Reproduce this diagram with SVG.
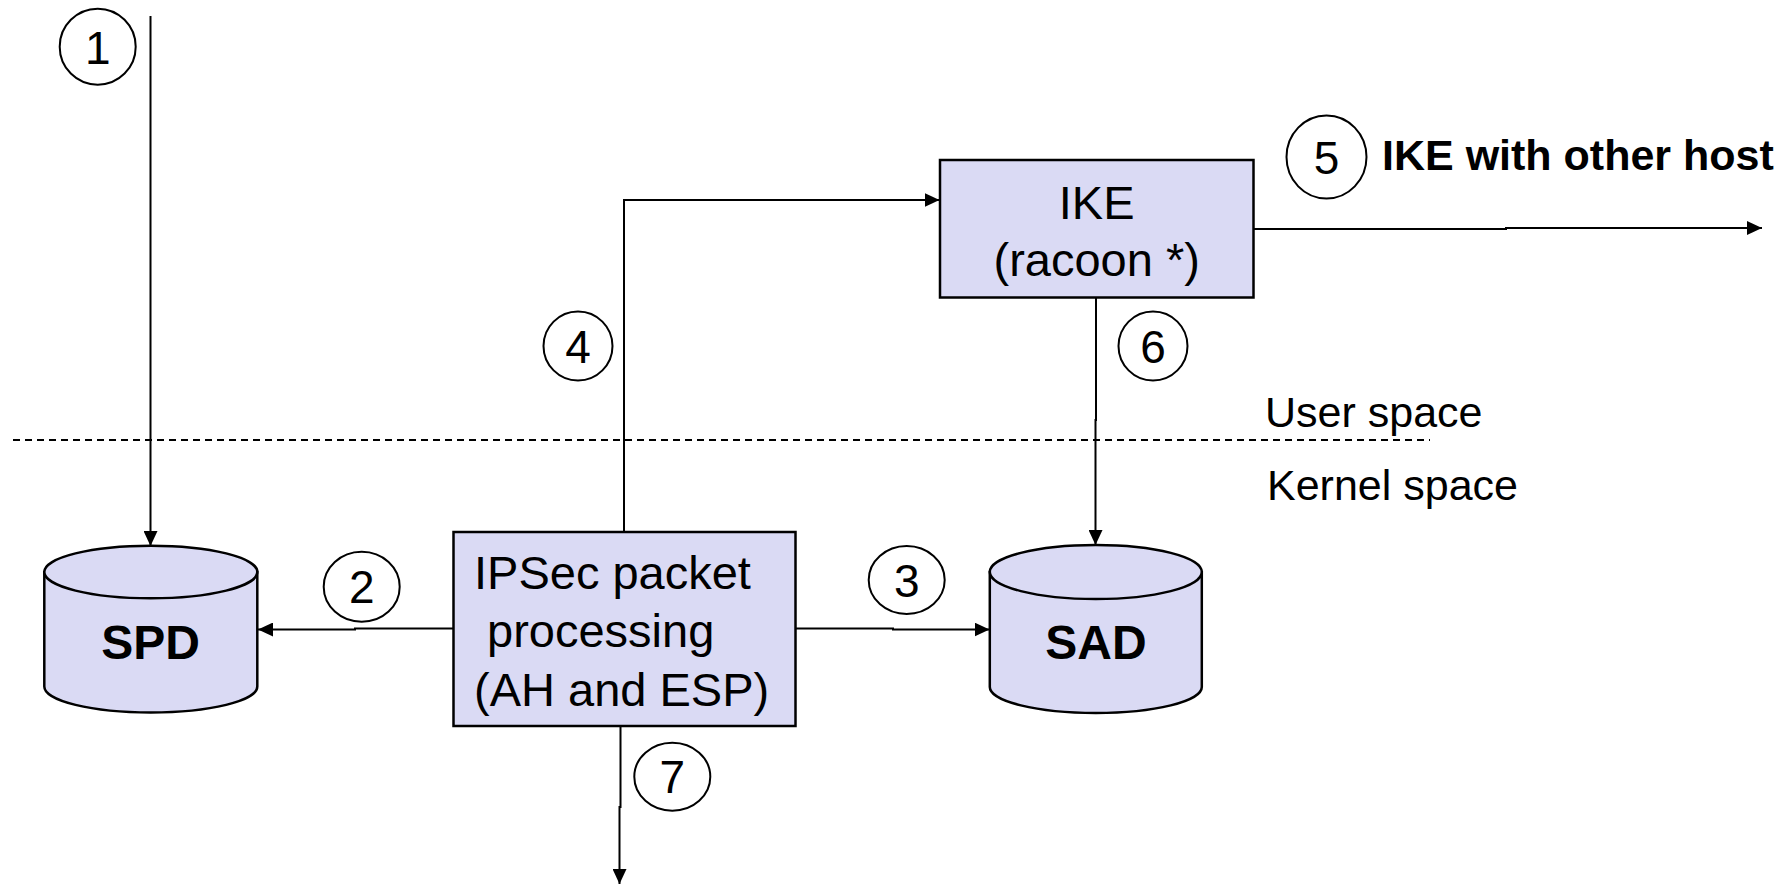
<svg xmlns="http://www.w3.org/2000/svg" width="1789" height="885" viewBox="0 0 1789 885">
<style>
.box{fill:#DADAF4;stroke:#000;stroke-width:2.5}
.cyl{fill:#DADAF4;stroke:#000;stroke-width:2.5}
.ln{fill:none;stroke:#000;stroke-width:2}
.num{fill:#fff;stroke:#000;stroke-width:2}
.t{font-family:"Liberation Sans",Arial,sans-serif;fill:#000}
.bt{font-size:47px}
.dg{font-size:46px;text-anchor:middle}
.sp{font-size:43px}
.bold{font-weight:bold}
</style>
<defs>
<marker id="ah" markerUnits="userSpaceOnUse" markerWidth="15" markerHeight="14" refX="15" refY="7" orient="auto">
<path d="M0,0 L15,7 L0,14 Z" fill="#000"/>
</marker>
</defs>
<rect width="1789" height="885" fill="#fff"/>

<g id="connectors">
<line class="ln" x1="13" y1="440" x2="1430" y2="440" stroke-dasharray="7 5"/>
<path class="ln" d="M150.5,16 V546" marker-end="url(#ah)"/>
<path class="ln" d="M453,628.5 H355 V629.5 H258" marker-end="url(#ah)"/>
<path class="ln" d="M795.5,628.5 H893 V629.5 H989.5" marker-end="url(#ah)"/>
<path class="ln" d="M624,531.5 V200 H939.5" marker-end="url(#ah)"/>
<path class="ln" d="M1096,297.5 V420 H1095.5 V545" marker-end="url(#ah)"/>
<path class="ln" d="M1253.5,229 H1506 V228 H1762" marker-end="url(#ah)"/>
<path class="ln" d="M620.5,726 V807 H619.5 V884" marker-end="url(#ah)"/>
</g>

<g id="spd">
<path class="cyl" d="M44.3,572 V686.5 A106.5,26 0 0 0 257.3,686.5 V572 Z"/>
<ellipse class="cyl" cx="150.8" cy="572" rx="106.5" ry="26.3"/>
<text class="t bold" x="150.5" y="659" font-size="48" text-anchor="middle">SPD</text>
</g>

<g id="sad">
<path class="cyl" d="M989.8,572 V687 A106,26 0 0 0 1201.8,687 V572 Z"/>
<ellipse class="cyl" cx="1095.8" cy="572" rx="106" ry="27"/>
<text class="t bold" x="1096" y="658.5" font-size="48" text-anchor="middle">SAD</text>
</g>

<g id="ipsec">
<rect class="box" x="453.5" y="532" width="342" height="194"/>
<text class="t bt" x="474" y="588.5">IPSec packet</text>
<text class="t bt" x="487" y="647">processing</text>
<text class="t bt" x="474" y="705.5">(AH and ESP)</text>
</g>

<g id="ike">
<rect class="box" x="940" y="160" width="313.5" height="137.5"/>
<text class="t bt" x="1096.7" y="218.5" text-anchor="middle">IKE</text>
<text class="t bt" x="1096.7" y="275.5" text-anchor="middle">(racoon *)</text>
</g>

<g id="step1">
<ellipse class="num" cx="97.7" cy="46.7" rx="38" ry="38"/>
<text class="t dg" x="97.7" y="63.5">1</text>
</g>
<g id="step2">
<ellipse class="num" cx="361.7" cy="586.7" rx="38" ry="35"/>
<text class="t dg" x="361.7" y="602.5">2</text>
</g>
<g id="step3">
<ellipse class="num" cx="906.7" cy="580" rx="38" ry="34"/>
<text class="t dg" x="906.7" y="596.5">3</text>
</g>
<g id="step4">
<ellipse class="num" cx="578" cy="346" rx="34.5" ry="34.5"/>
<text class="t dg" x="578" y="362.5">4</text>
</g>
<g id="step5">
<ellipse class="num" cx="1326.5" cy="157" rx="40" ry="41.5"/>
<text class="t dg" x="1326.5" y="173.5">5</text>
</g>
<g id="step6">
<ellipse class="num" cx="1153" cy="346" rx="34.5" ry="34.5"/>
<text class="t dg" x="1153" y="362.5">6</text>
</g>
<g id="step7">
<ellipse class="num" cx="672.3" cy="776.7" rx="38" ry="34"/>
<text class="t dg" x="672.3" y="793">7</text>
</g>

<g id="labels">
<text class="t bold" x="1382" y="170" font-size="43">IKE with other host</text>
<text class="t sp" x="1265" y="427">User space</text>
<text class="t sp" x="1267" y="500">Kernel space</text>
</g>
</svg>
